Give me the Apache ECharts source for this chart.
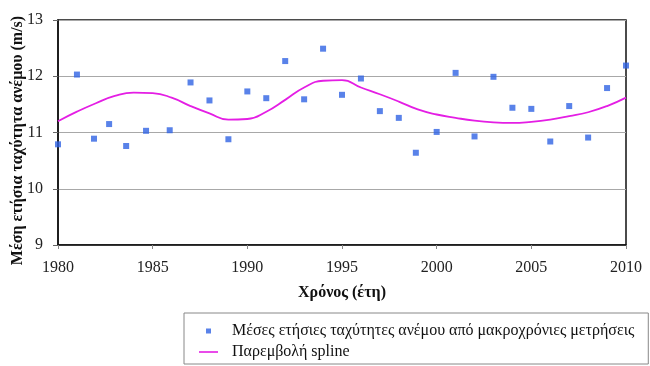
<!DOCTYPE html>
<html><head><meta charset="utf-8">
<script src="https://cdn.jsdelivr.net/npm/echarts@6/dist/echarts.min.js"></script>
<style>html,body{margin:0;padding:0;background:#fff}#c{width:650px;height:366px}</style>
</head><body><div id="c"></div>
<script>
const scatterYears = [1980,1981,1981.9,1982.7,1983.6,1984.65,1985.9,1987,1988,1989,1990,1991,1992,1993,1994,1995,1996,1997,1998,1998.9,2000,2001,2002,2003,2004,2005,2006,2007,2008,2009,2010];
const scatterValues = [10.79,12.03,10.89,11.15,10.76,11.03,11.04,11.89,11.57,10.88,11.73,11.61,12.27,11.59,12.49,11.67,11.96,11.38,11.26,10.64,11.01,12.06,10.93,11.99,11.44,11.42,10.84,11.47,10.91,11.79,12.19];
const splineYears = [1980,1981,1982,1983,1984,1985,1986,1987,1988,1989,1990,1991,1992,1993,1994,1995,1996,1997,1998,1999,2000,2001,2002,2003,2004,2005,2006,2007,2008,2009,2010];
const splineValues = [11.20,11.37,11.52,11.65,11.71,11.70,11.62,11.47,11.34,11.23,11.24,11.37,11.58,11.80,11.92,11.93,11.80,11.68,11.55,11.41,11.32,11.26,11.21,11.18,11.17,11.19,11.23,11.29,11.36,11.47,11.62];
const scatterName = 'Μέσες ετήσιες ταχύτητες ανέμου από μακροχρόνιες μετρήσεις';
const splineName = 'Παρεμβολή spline';
const yTitle = 'Μέση ετήσια ταχύτητα ανέμου (m/s)';
const xTitle = 'Χρόνος (έτη)';

const font = 'Liberation Serif';
const chart = echarts.init(document.getElementById('c'));
chart.setOption({
  animation: false,
  grid: {left: 58, right: 24, top: 20, bottom: 121, show: true, borderColor: '#111', borderWidth: 1.5,
         containLabel: false, outerBoundsMode: 'none'},
  xAxis: {
    type: 'value', min: 1980, max: 2010, interval: 5,
    name: xTitle, nameLocation: 'middle', nameGap: 40, nameMoveOverlap: false,
    nameTextStyle: {fontFamily: font, fontWeight: 'bold', fontSize: 16, color: '#111'},
    axisLine: {lineStyle: {color: '#111', width: 1.5}},
    axisTick: {show: true, length: 4, lineStyle: {color: '#888'}},
    axisLabel: {fontFamily: font, fontSize: 16, color: '#222', margin: 15, formatter: v => String(v)},
    splitLine: {show: false}
  },
  yAxis: {
    type: 'value', min: 9, max: 13, interval: 1,
    name: yTitle, nameLocation: 'middle', nameGap: 32, nameMoveOverlap: false,
    nameTextStyle: {fontFamily: font, fontWeight: 'bold', fontSize: 16, color: '#111', padding: [0, 16, 0, 0]},
    axisLine: {show: true, lineStyle: {color: '#111', width: 1.5}},
    axisTick: {show: true, length: 5, lineStyle: {color: '#666'}},
    axisLabel: {fontFamily: font, fontSize: 16, color: '#222', margin: 15},
    splitLine: {lineStyle: {color: '#a8a8a8', width: 1.2}}
  },
  legend: {
    orient: 'vertical', left: 184, top: 313,
    backgroundColor: '#fff', borderColor: '#888', borderWidth: 1,
    padding: [9, 14, 3, 15], itemGap: 3, itemWidth: 19, itemHeight: 10,
    textStyle: {fontFamily: font, fontSize: 16, color: '#111', lineHeight: 18, padding: [0, 0, 0, 9]},
    data: [
      {name: scatterName, icon: 'path://M0,0M19,10M7,2.5h5v5h-5z'},
      {name: splineName, icon: 'path://M0,0M19,10M0,4.2h19v1.6h-19z'}
    ]
  },
  series: [
    {
      name: scatterName, type: 'scatter', symbol: 'rect', symbolSize: 6,
      itemStyle: {color: '#2f63e3'},
      data: scatterYears.map((x, i) => [x, scatterValues[i]])
    },
    {
      name: splineName, type: 'line', smooth: 0.5, showSymbol: false,
      lineStyle: {color: '#e41ee4', width: 1.8},
      itemStyle: {color: '#e41ee4'},
      data: splineYears.map((x, i) => [x, splineValues[i]])
    }
  ]
});
</script></body></html>
